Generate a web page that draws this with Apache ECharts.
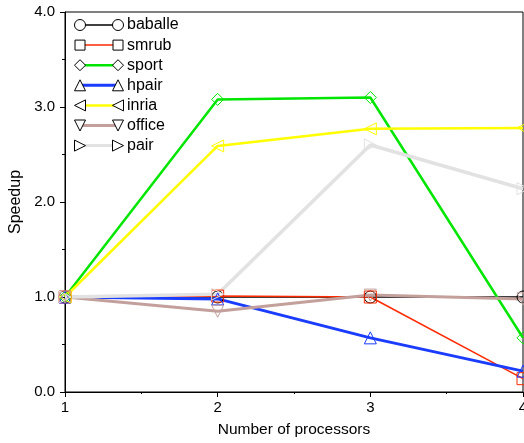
<!DOCTYPE html>
<html>
<head>
<meta charset="utf-8">
<script src="https://cdn.jsdelivr.net/npm/echarts@6/dist/echarts.min.js"></script>
<style>
  html, body { margin: 0; padding: 0; background: #fff; }
  #chart { width: 524px; height: 443px; }
</style>
</head>
<body>
<div id="chart"></div>
<script>
// Processor counts along the x axis
const processors = [1, 2, 3, 4];
const yTicks = [0, 1, 2, 3, 4];

// Speedup per benchmark
const baballe = [1.0, 1.0, 1.0, 1.0];
const smrub   = [1.0, 1.01, 1.0, 0.14];
const sport   = [1.0, 3.08, 3.10, 0.57];
const hpair   = [1.0, 0.98, 0.57, 0.22];
const inria   = [1.0, 2.59, 2.77, 2.78];
const office  = [1.0, 0.85, 1.02, 0.98];
const pair    = [1.0, 1.03, 2.60, 2.14];

const names = ['baballe', 'smrub', 'sport', 'hpair', 'inria', 'office', 'pair'];
const values = [baballe, smrub, sport, hpair, inria, office, pair];

const styles = [
  { color: '#000000', width: 1.5, symbol: 'circle',   rot: 0 },
  { color: '#ff2a00', width: 1.5, symbol: 'rect',     rot: 0 },
  { color: '#00e600', width: 2.5, symbol: 'diamond',  rot: 0 },
  { color: '#1a3cff', width: 3,   symbol: 'triangle', rot: 0 },
  { color: '#ffff00', width: 2.5, symbol: 'triangle', rot: 90 },
  { color: '#c4a09c', width: 3,   symbol: 'triangle', rot: 180 },
  { color: '#e2e2e2', width: 3.5, symbol: 'triangle', rot: -90 }
];

const FONT = '"Liberation Sans", Arial, Helvetica, sans-serif';

const series = names.map((n, i) => ({
  name: n,
  type: 'line',
  data: processors.map((p, k) => [p, values[i][k]]),
  symbol: styles[i].symbol,
  symbolRotate: styles[i].rot,
  symbolSize: 12,
  showSymbol: true,
  clip: false,
  lineStyle: { color: styles[i].color, width: styles[i].width },
  itemStyle: { color: 'rgba(255,255,255,0)', borderColor: styles[i].color, borderWidth: 1 },
  emphasis: { disabled: true },
  animation: false
}));

// Legend: coloured line with black hollow markers at both ends
function marker(kind, rot, cx, cy) {
  const s = 5.5;
  const st = { fill: '#fff', stroke: '#000', lineWidth: 1 };
  if (kind === 'circle') return { type: 'circle', shape: { cx, cy, r: s }, style: st, z: 10 };
  if (kind === 'rect') return { type: 'rect', shape: { x: cx - 5, y: cy - 5, width: 10, height: 10 }, style: st, z: 10 };
  if (kind === 'diamond') return { type: 'polygon', shape: { points: [[cx, cy - s], [cx + s, cy], [cx, cy + s], [cx - s, cy]] }, style: st, z: 10 };
  let pts;
  if (rot === 0) pts = [[cx, cy - s], [cx + s, cy + s], [cx - s, cy + s]];
  else if (rot === 90) pts = [[cx - s, cy], [cx + s, cy - s], [cx + s, cy + s]];
  else if (rot === 180) pts = [[cx, cy + s], [cx + s, cy - s], [cx - s, cy - s]];
  else pts = [[cx + s, cy], [cx - s, cy - s], [cx - s, cy + s]];
  return { type: 'polygon', shape: { points: pts }, style: st, z: 10 };
}

const legendItems = [];
names.forEach((n, i) => {
  const y = 25 + i * 20.1;
  const x1 = 80, x2 = 118;
  legendItems.push({ type: 'line', shape: { x1, y1: y, x2, y2: y }, style: { stroke: styles[i].color, lineWidth: Math.min(styles[i].width, 3) }, z: 9 });
  legendItems.push(marker(styles[i].symbol, styles[i].rot, x1, y));
  legendItems.push(marker(styles[i].symbol, styles[i].rot, x2, y));
  legendItems.push({ type: 'text', x: 127, y: y, style: { text: n, font: '16px ' + FONT, fill: '#000', verticalAlign: 'middle' }, z: 10 });
});

const chart = echarts.init(document.getElementById('chart'), null, { renderer: 'canvas' });
chart.setOption({
  animation: false,
  backgroundColor: '#fff',
  grid: {
    left: 65, right: 1, top: 12, bottom: 51,
    containLabel: false, outerBoundsMode: 'none',
    show: true, borderColor: '#000', borderWidth: 1, backgroundColor: 'transparent'
  },
  xAxis: {
    type: 'value', min: processors[0], max: processors[processors.length - 1], interval: 1,
    name: 'Number of processors', nameLocation: 'middle', nameGap: 30,
    nameTextStyle: { fontFamily: FONT, fontSize: 15.5, color: '#000' },
    axisLine: { lineStyle: { color: '#000', width: 1 } },
    axisTick: { show: true, length: 5, lineStyle: { color: '#000' } },
    minorTick: { show: true, splitNumber: 2, length: 2, lineStyle: { color: '#000' } },
    splitLine: { show: false },
    axisLabel: { fontFamily: FONT, fontSize: 15, color: '#000', margin: 8 }
  },
  yAxis: {
    type: 'value', min: yTicks[0], max: yTicks[yTicks.length - 1], interval: 1,
    name: 'Speedup', nameLocation: 'middle', nameGap: 40, nameRotate: 90,
    nameTextStyle: { fontFamily: FONT, fontSize: 16, color: '#000' },
    axisLine: { show: true, lineStyle: { color: '#000', width: 1 } },
    axisTick: { show: true, length: 5, lineStyle: { color: '#000' } },
    minorTick: { show: true, splitNumber: 2, length: 3, lineStyle: { color: '#000' } },
    splitLine: { show: false },
    axisLabel: { fontFamily: FONT, fontSize: 15, color: '#000', margin: 10, formatter: v => v.toFixed(1) }
  },
  series: series,
  graphic: legendItems
});
</script>
</body>
</html>
